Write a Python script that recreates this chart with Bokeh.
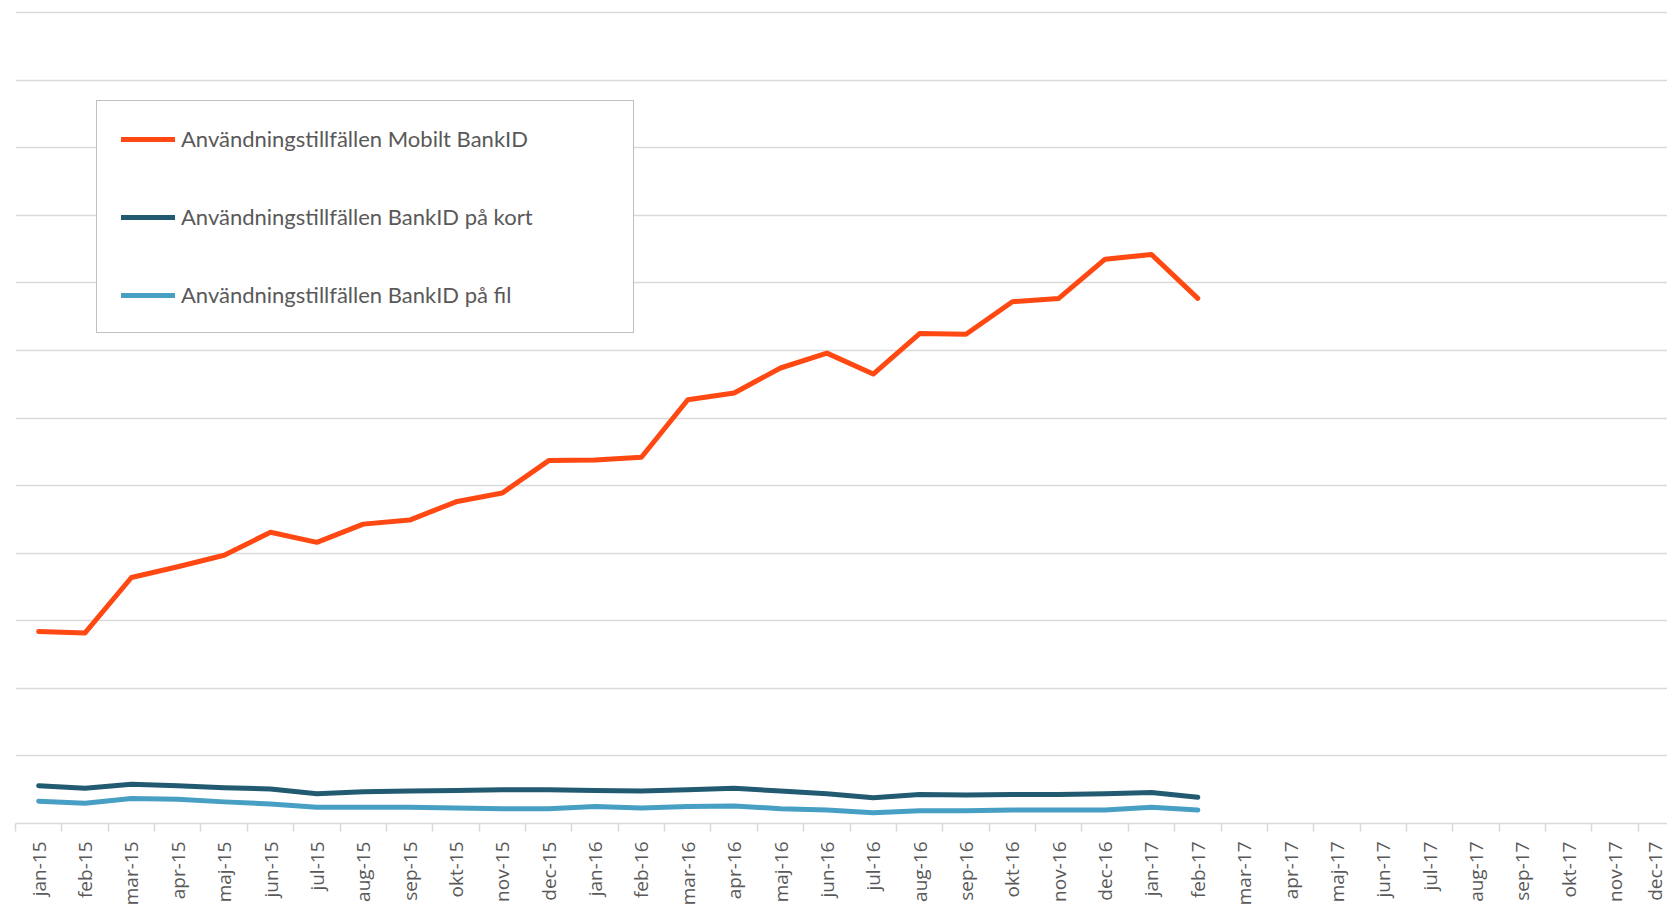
import math
from bokeh.plotting import figure
from bokeh.models import Range1d, FixedTicker, Legend, LegendItem
from bokeh.embed import file_html
from bokeh.resources import INLINE

# ---- data (y in gridline units) ----
months = ["jan-15", "feb-15", "mar-15", "apr-15", "maj-15", "jun-15", "jul-15", "aug-15",
          "sep-15", "okt-15", "nov-15", "dec-15", "jan-16", "feb-16", "mar-16", "apr-16",
          "maj-16", "jun-16", "jul-16", "aug-16", "sep-16", "okt-16", "nov-16", "dec-16",
          "jan-17", "feb-17", "mar-17", "apr-17", "maj-17", "jun-17", "jul-17", "aug-17",
          "sep-17", "okt-17", "nov-17", "dec-17"]

mobilt = [2.84, 2.82, 3.64, 3.80, 3.97, 4.31, 4.16, 4.43, 4.49, 4.76, 4.89, 5.37, 5.38,
          5.42, 6.27, 6.37, 6.74, 6.96, 6.65, 7.25, 7.24, 7.72, 7.77, 8.35, 8.42, 7.77]
kort = [0.56, 0.52, 0.58, 0.56, 0.53, 0.51, 0.44, 0.47, 0.48, 0.49, 0.50, 0.50, 0.49,
        0.48, 0.50, 0.52, 0.48, 0.44, 0.38, 0.43, 0.42, 0.43, 0.43, 0.44, 0.46, 0.39]
fil = [0.33, 0.30, 0.37, 0.36, 0.32, 0.29, 0.24, 0.24, 0.24, 0.23, 0.22, 0.22, 0.25,
       0.23, 0.25, 0.26, 0.22, 0.20, 0.16, 0.19, 0.19, 0.20, 0.20, 0.20, 0.24, 0.20]

series_names = ["Användningstillfällen Mobilt BankID",
                "Användningstillfällen BankID på kort",
                "Användningstillfällen BankID på fil"]
series_colors = ["#FF4812", "#225B71", "#489FC4"]
grid_values = list(range(0, 13))

# ---- figure ----
p = figure(width=1667, height=908, output_backend="svg", toolbar_location=None,
           x_range=Range1d(-0.5, 35.13), y_range=Range1d(0, 12.03),
           min_border_left=15, min_border_right=0, min_border_top=10, min_border_bottom=84)
p.outline_line_color = None
p.background_fill_color = "white"
p.border_fill_color = "white"

xs = list(range(len(mobilt)))
renderers = []
for vals, col in zip([mobilt, kort, fil], series_colors):
    r = p.line(xs, vals, line_color=col, line_width=5, line_join="round", line_cap="round")
    renderers.append(r)

# axes
p.yaxis.visible = False
ax = p.xaxis[0]
ax.ticker = FixedTicker(ticks=list(range(len(months))),
                        minor_ticks=[i - 0.5 for i in range(len(months) + 1)])
ax.major_label_overrides = {i: m for i, m in enumerate(months)}
ax.major_label_orientation = math.pi / 2
ax.major_label_text_font = "Open Sans"
ax.major_label_text_font_size = "19px"
ax.major_label_text_color = "#595959"
ax.major_tick_line_alpha = 0
ax.major_tick_out = 8
ax.major_tick_in = 0
ax.major_label_standoff = 10
ax.minor_tick_line_color = "#D9D9D9"
ax.minor_tick_line_width = 1.5
ax.minor_tick_out = 8
ax.minor_tick_in = 0
ax.axis_line_color = "#D9D9D9"
ax.axis_line_width = 1.5

p.xgrid.visible = False
p.ygrid.ticker = FixedTicker(ticks=grid_values)
p.ygrid.grid_line_color = "#D9D9D9"
p.ygrid.grid_line_width = 1.5

# legend
items = [LegendItem(label=n, renderers=[r]) for n, r in zip(series_names, renderers)]
legend = Legend(items=items, location=(81, 490), orientation="vertical",
                padding=24, spacing=51, glyph_width=54, glyph_height=16,
                label_height=16, label_width=428, label_standoff=6, margin=0,
                label_text_font="Lato", label_text_font_size="22px",
                label_text_color="#595959",
                border_line_color="#7F7F7F", border_line_width=1.5,
                background_fill_color="white", background_fill_alpha=1.0)
p.add_layout(legend, "center")

open("out.html", "w").write(file_html(p, INLINE))
